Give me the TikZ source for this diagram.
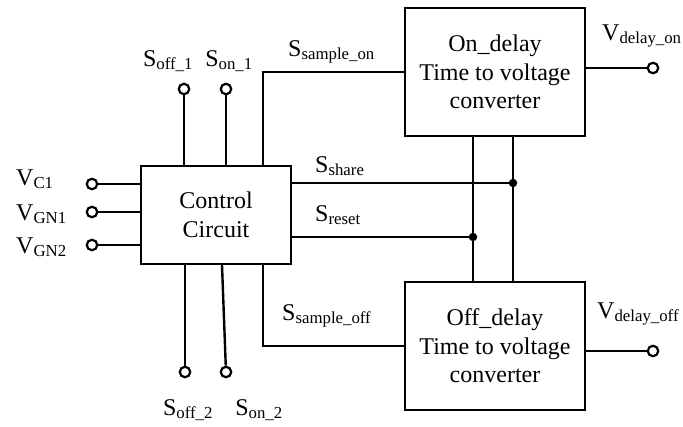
\documentclass[tikz,border=0pt]{standalone}
\usepackage{fontspec}
\setmainfont{Liberation Serif}
\usepackage{tikz}
\usetikzlibrary{positioning,calc}

\newcommand{\sig}[2]{#1\textsubscript{#2}}

\begin{document}
\begin{tikzpicture}[x=1pt, y=-1pt,
  block/.style={draw, line width=2.4pt, minimum width=180pt,
    minimum height=128pt, align=center, inner sep=0pt,
    font=\rmfamily\fontsize{24}{28.5}\selectfont},
  wire/.style={line width=2.4pt},
  term/.style={circle, draw, line width=2.2pt, minimum size=10.5pt,
    inner sep=0pt, fill=white},
  jdot/.style={circle, fill, minimum size=8.5pt, inner sep=0pt},
  lbl/.style={inner sep=0pt, font=\rmfamily\fontsize{24}{28}\selectfont},
]
  \useasboundingbox (0,0) rectangle (683,426);

  % blocks
  \node[block, minimum width=150pt, minimum height=98pt] (ctrl) at (216,215)
    {Control\\Circuit};
  \node[block] (on)  at (495,72)  {On\_delay\\Time to voltage\\converter};
  \node[block] (off) at (495,346) {Off\_delay\\Time to voltage\\converter};

  % terminals
  \node[term] (toff1) at (184,89) {};
  \node[term] (ton1)  at (226,89) {};
  \node[term] (boff2) at (185,372) {};
  \node[term] (bon2)  at (226,372) {};
  \node[term] (vc1)   at (92,184) {};
  \node[term] (vgn1)  at (92,212) {};
  \node[term] (vgn2)  at (92,245) {};
  \node[term] (von)   at (653,68) {};
  \node[term] (voff)  at (653,351) {};

  % junctions
  \node[jdot] (jshare) at (513,183) {};
  \node[jdot] (jreset) at (473,237) {};
  \coordinate (smpon)  at ($(ctrl.north)+(47,0)$);
  \coordinate (smpoff) at ($(ctrl.south)+(47,0)$);
  \coordinate (on2end) at ($(ctrl.south)+(6,0)$);

  % wires
  \draw[wire] (toff1) -- (toff1 |- ctrl.north);
  \draw[wire] (ton1) -- (ton1 |- ctrl.north);
  \draw[wire] (boff2) -- (boff2 |- ctrl.south);
  \draw[wire] (bon2) -- (on2end);
  \draw[wire] (vc1) -- (vc1 -| ctrl.west);
  \draw[wire] (vgn1) -- (vgn1 -| ctrl.west);
  \draw[wire] (vgn2) -- (vgn2 -| ctrl.west);
  \draw[wire] (smpon) |- (on.west);
  \draw[wire] (smpoff) |- (off.west);
  \draw[wire] (jshare -| ctrl.east) -- (jshare);
  \draw[wire] (jreset -| ctrl.east) -- (jreset);
  \draw[wire] (on.south -| jshare) -- (off.north -| jshare);
  \draw[wire] (on.south -| jreset) -- (off.north -| jreset);
  \draw[wire] (von -| on.east) -- (von);
  \draw[wire] (voff -| off.east) -- (voff);

  % labels
  \node[lbl, anchor=base] (loff1) at (168,66) {\sig{S}{off\_1}};
  \node[lbl, anchor=base] (lon1)  at (229,66) {\sig{S}{on\_1}};
  \node[lbl, anchor=base west] (lsmpon) at (288,56) {\sig{S}{sample\_on}};
  \node[lbl, anchor=base west] (lvc1)  at (16,185) {\sig{V}{C1}};
  \node[lbl, anchor=base west] (lvgn1) at (16,220) {\sig{V}{GN1}};
  \node[lbl, anchor=base west] (lvgn2) at (16,253) {\sig{V}{GN2}};
  \node[lbl, anchor=base west] (lshare) at (315,172) {\sig{S}{share}};
  \node[lbl, anchor=base west] (lreset) at (315,221) {\sig{S}{reset}};
  \node[lbl, anchor=base west] (lsmpoff) at (282,320) {\sig{S}{sample\_off}};
  \node[lbl, anchor=base] (loff2) at (188,415) {\sig{S}{off\_2}};
  \node[lbl, anchor=base] (lon2)  at (259,415) {\sig{S}{on\_2}};
  \node[lbl, anchor=base west] (lvon)  at (602,40)  {\sig{V}{delay\_on}};
  \node[lbl, anchor=base west] (lvoff) at (597,318) {\sig{V}{delay\_off}};
\end{tikzpicture}
\end{document}
